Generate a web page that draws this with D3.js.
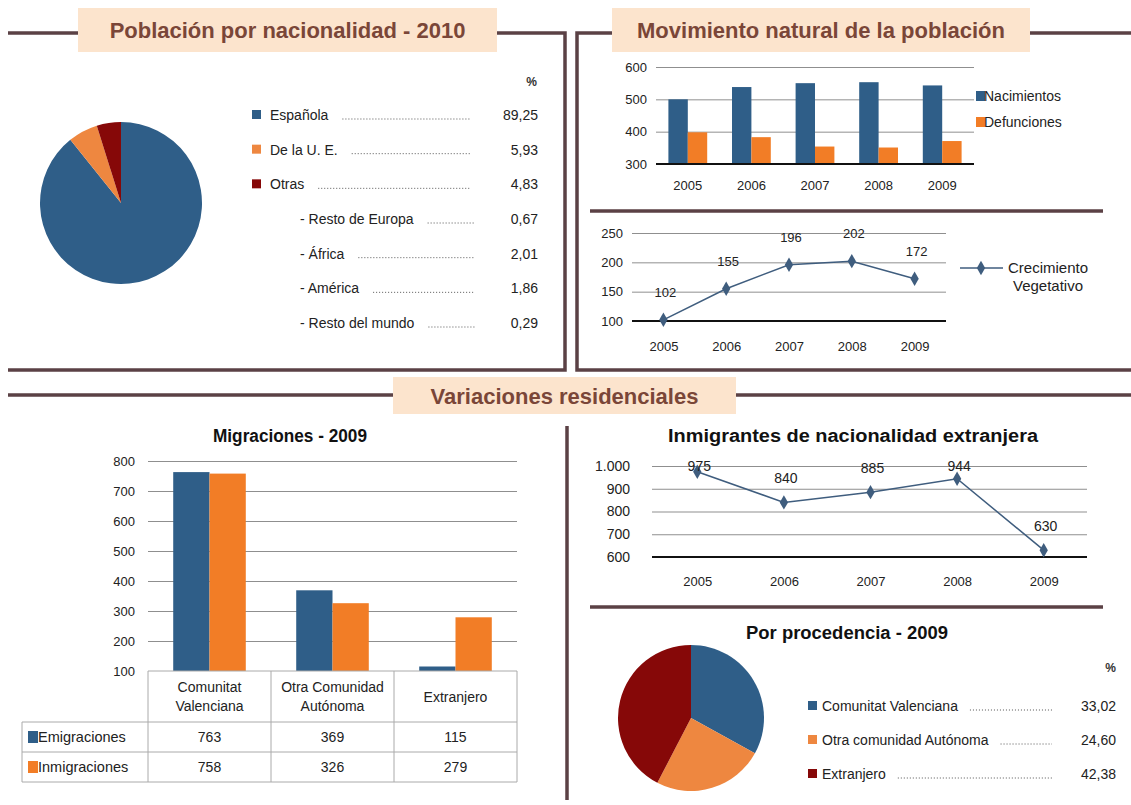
<!DOCTYPE html>
<html>
<head>
<meta charset="utf-8">
<script src="https://d3js.org/d3.v7.min.js"></script>
<style>
  body { margin: 0; background: #fff; }
  svg text { font-family: "Liberation Sans", Arial, sans-serif; }
</style>
</head>
<body>
<svg width="1131" height="805"></svg>
<script>
// Población por nacionalidad - 2010
const nacLabels = ["Española", "De la U. E.", "Otras"];
const nacValues = [89.25, 5.93, 4.83];
const otrasLabels = ["- Resto de Europa", "- África", "- América", "- Resto del mundo"];
const otrasValues = [0.67, 2.01, 1.86, 0.29];

// Movimiento natural
const years = ["2005", "2006", "2007", "2008", "2009"];
const nacimientos = [500, 538, 550, 553, 543];
const defunciones = [398, 383, 354, 351, 371];
const crecimiento = [102, 155, 196, 202, 172];

// Migraciones - 2009
const migCats = [["Comunitat", "Valenciana"], ["Otra Comunidad", "Autónoma"], ["Extranjero"]];
const emigraciones = [763, 369, 115];
const inmigraciones = [758, 326, 279];

// Inmigrantes de nacionalidad extranjera
const inmigrantes = [975, 840, 885, 944, 630];

// Por procedencia - 2009
const procLabels = ["Comunitat Valenciana", "Otra comunidad Autónoma", "Extranjero"];
const procValues = [33.02, 24.60, 42.38];

const BLUE = "#2f5e88", ORANGE = "#f27d26", RED = "#860808", PIE_ORANGE = "#ee8740";
const FRAME = "#5b4145", BOX = "#fce4cd", TITLE = "#7a4638", GRID = "#8f8f8f", LINE = "#3f5d7e";
const TXT = "#222";

const es = d3.formatLocale({decimal: ",", thousands: ".", grouping: [3], currency: ["", "€"]});
const fmt2 = es.format(".2f");
const fmtInt = es.format(",d");

const svg = d3.select("svg");

// frames and section titles
function frame(d) {
  svg.append("path").attr("d", d).attr("fill", "none")
    .attr("stroke", FRAME).attr("stroke-width", 3.5);
}
function sectionTitle(x0, x1, y0, y1, txt) {
  svg.append("rect").attr("x", x0).attr("y", y0).attr("width", x1 - x0).attr("height", y1 - y0)
    .attr("fill", BOX);
  svg.append("text").attr("x", (x0 + x1) / 2).attr("y", (y0 + y1) / 2 + 8)
    .attr("text-anchor", "middle").attr("font-weight", "bold").attr("font-size", 22)
    .attr("fill", TITLE).text(txt);
}
frame("M8,33H78M497,33H565V370H8");
frame("M1131,33H1030M612,33H577V370H1131");
frame("M590,211H1103");
frame("M8,395H393M736,395H1131");
frame("M567,426V800");
frame("M590,607H1103");
sectionTitle(78, 497, 8, 52, "Población por nacionalidad - 2010");
sectionTitle(612, 1030, 8, 52, "Movimiento natural de la población");
sectionTitle(393, 736, 377, 414, "Variaciones residenciales");

function subTitle(x, y, txt, len) {
  const t = svg.append("text").attr("x", x).attr("y", y).attr("text-anchor", "middle")
    .attr("font-weight", "bold").attr("font-size", 18).attr("fill", "#111").text(txt);
  if (len) t.attr("textLength", len).attr("lengthAdjust", "spacingAndGlyphs");
}
subTitle(290, 442, "Migraciones - 2009", 154);
subTitle(853, 442, "Inmigrantes de nacionalidad extranjera", 370);
subTitle(847, 639, "Por procedencia - 2009", 202);

function styleAxis(g, size) {
  g.select(".domain").remove();
  g.selectAll("text").attr("fill", TXT).style("font-size", (size || 13) + "px")
    .style("font-family", "Liberation Sans, Arial, sans-serif");
}
function grid(g) {
  g.selectAll("line").attr("stroke", GRID).attr("stroke-width", 1);
}

function drawPie(cx, cy, r, values, colors) {
  const pie = d3.pie().sort(null)(values);
  const arc = d3.arc().innerRadius(0).outerRadius(r);
  svg.append("g").attr("transform", `translate(${cx},${cy})`)
    .selectAll("path").data(pie).join("path")
    .attr("d", arc).attr("fill", (d, i) => colors[i]);
}

function leader(x0, x1, y) {
  svg.append("line").attr("x1", x0).attr("x2", x1).attr("y1", y).attr("y2", y)
    .attr("stroke", "#555").attr("stroke-width", 1).attr("stroke-dasharray", "1,2");
}

// Población por nacionalidad
const nacColors = [BLUE, PIE_ORANGE, RED];
drawPie(121, 203, 81, nacValues, nacColors);

svg.append("text").attr("x", 537).attr("y", 86).attr("text-anchor", "end")
  .attr("font-size", 12).attr("font-weight", "bold").attr("fill", "#333").text("%");

const rowY = d3.scaleLinear().domain([0, 6]).range([115, 323]);
const nacRows = nacLabels.map((l, i) => ({label: l, value: nacValues[i], sub: false, color: nacColors[i]}))
  .concat(otrasLabels.map((l, i) => ({label: l, value: otrasValues[i], sub: true})));

nacRows.forEach((r, i) => {
  const y = rowY(i);
  if (!r.sub) {
    svg.append("rect").attr("x", 252).attr("y", y - 5).attr("width", 9).attr("height", 9).attr("fill", r.color);
  }
  const tx = r.sub ? 300 : 270;
  const t = svg.append("text").attr("x", tx).attr("y", y + 5)
    .attr("font-size", 14).attr("fill", TXT).text(r.label);
  const tw = t.node().getComputedTextLength();
  leader(tx + tw + 14, r.sub ? 475 : 470, y + 4);
  svg.append("text").attr("x", 538).attr("y", y + 5).attr("text-anchor", "end")
    .attr("font-size", 14).attr("fill", TXT).text(fmt2(r.value));
});

// Nacimientos / Defunciones
{
  const x0 = d3.scaleBand().domain(years).range([656, 974]).paddingInner(0.39).paddingOuter(0.195);
  const x1 = d3.scaleBand().domain([0, 1]).range([0, x0.bandwidth()]);
  const y = d3.scaleLinear().domain([300, 600]).range([164, 67]);
  const g = svg.append("g");

  const ga = g.append("g").attr("transform", "translate(656,0)")
    .call(d3.axisLeft(y).tickValues([300, 400, 500, 600]).tickSize(-318).tickPadding(9));
  styleAxis(ga); grid(ga);
  ga.selectAll(".tick line").filter(d => d === 300).remove();

  const series = [nacimientos, defunciones];
  const cols = [BLUE, ORANGE];
  years.forEach((yr, i) => {
    series.forEach((s, k) => {
      g.append("rect").attr("x", x0(yr) + x1(k)).attr("width", x1.bandwidth())
        .attr("y", y(s[i])).attr("height", y(300) - y(s[i])).attr("fill", cols[k]);
    });
  });
  g.append("line").attr("x1", 656).attr("x2", 974).attr("y1", y(300)).attr("y2", y(300))
    .attr("stroke", "#111").attr("stroke-width", 2);
  const gx = g.append("g").attr("transform", `translate(0,${y(300)})`)
    .call(d3.axisBottom(x0).tickSize(0).tickPadding(17));
  styleAxis(gx);

  ["Nacimientos", "Defunciones"].forEach((l, k) => {
    const yy = 96 + k * 26;
    g.append("rect").attr("x", 976).attr("y", yy - 5).attr("width", 9).attr("height", 10).attr("fill", cols[k]);
    g.append("text").attr("x", 984).attr("y", yy + 5).attr("font-size", 14).attr("fill", TXT).text(l);
  });
}

// Crecimiento vegetativo
{
  const x = d3.scalePoint().domain(years).range([632, 946]).padding(0.5);
  const y = d3.scaleLinear().domain([100, 250]).range([321, 233]);
  const g = svg.append("g");
  const ga = g.append("g").attr("transform", "translate(632,0)")
    .call(d3.axisLeft(y).tickValues([100, 150, 200, 250]).tickSize(-314).tickPadding(9));
  styleAxis(ga); grid(ga);
  ga.selectAll(".tick line").filter(d => d === 100).remove();
  g.append("line").attr("x1", 632).attr("x2", 946).attr("y1", y(100)).attr("y2", y(100))
    .attr("stroke", "#111").attr("stroke-width", 2);
  const gx = g.append("g").attr("transform", `translate(0,${y(100)})`)
    .call(d3.axisBottom(x).tickSize(0).tickPadding(21));
  styleAxis(gx);

  g.append("path").datum(crecimiento)
    .attr("d", d3.line().x((d, i) => x(years[i])).y(d => y(d)))
    .attr("fill", "none").attr("stroke", LINE).attr("stroke-width", 1.5);
  g.selectAll(".pt").data(crecimiento).join("path")
    .attr("transform", (d, i) => `translate(${x(years[i])},${y(d)})`)
    .attr("d", d3.symbol(d3.symbolDiamond, 60)).attr("fill", LINE);
  g.selectAll(".lbl").data(crecimiento).join("text")
    .attr("x", (d, i) => x(years[i]) + 2).attr("y", d => y(d) - 23)
    .attr("text-anchor", "middle").attr("font-size", 13).attr("fill", TXT).text(d => d);

  g.append("line").attr("x1", 960).attr("x2", 1003).attr("y1", 268).attr("y2", 268)
    .attr("stroke", LINE).attr("stroke-width", 1.5);
  g.append("path").attr("transform", "translate(981,268)")
    .attr("d", d3.symbol(d3.symbolDiamond, 60)).attr("fill", LINE);
  g.append("text").attr("x", 1048).attr("y", 273).attr("text-anchor", "middle")
    .attr("font-size", 15).attr("fill", TXT).text("Crecimiento");
  g.append("text").attr("x", 1048).attr("y", 291).attr("text-anchor", "middle")
    .attr("font-size", 15).attr("fill", TXT).text("Vegetativo");
}

// Migraciones - 2009
{
  const idx = migCats.map((c, i) => i);
  const x0 = d3.scaleBand().domain(idx).range([148, 517]).paddingInner(0.41).paddingOuter(0.205);
  const x1 = d3.scaleBand().domain([0, 1]).range([0, x0.bandwidth()]);
  const y = d3.scaleLinear().domain([100, 800]).range([671, 461]);
  const g = svg.append("g");
  const ga = g.append("g").attr("transform", "translate(148,0)")
    .call(d3.axisLeft(y).tickValues(d3.range(100, 801, 100)).tickSize(-369).tickPadding(13));
  styleAxis(ga); grid(ga);
  ga.selectAll(".tick line").filter(d => d === 100).remove();

  const series = [emigraciones, inmigraciones];
  const cols = [BLUE, ORANGE];
  idx.forEach(i => {
    series.forEach((s, k) => {
      g.append("rect").attr("x", x0(i) + x1(k)).attr("width", x1.bandwidth())
        .attr("y", y(s[i])).attr("height", y(100) - y(s[i])).attr("fill", cols[k]);
    });
  });

  // data table under the chart
  const tTop = y(100), rH = 30, hH = 51;
  const edges = [148].concat(idx.map(i => x0(i) - x0.step() * 0.205 + x0.step()));
  const tg = g.append("g").attr("stroke", "#aaa").attr("stroke-width", 1);
  tg.append("line").attr("x1", 148).attr("x2", 517).attr("y1", tTop).attr("y2", tTop);
  [1, 2, 3].forEach(r => {
    const yy = tTop + hH + (r - 1) * rH;
    tg.append("line").attr("x1", 22).attr("x2", 517).attr("y1", yy).attr("y2", yy);
  });
  tg.append("line").attr("x1", 22).attr("x2", 22).attr("y1", tTop + hH).attr("y2", tTop + hH + 2 * rH);
  edges.forEach(e => tg.append("line").attr("x1", e).attr("x2", e).attr("y1", tTop).attr("y2", tTop + hH + 2 * rH));

  migCats.forEach((c, i) => {
    const cx = x0(i) + x0.bandwidth() / 2;
    const t = g.append("text").attr("text-anchor", "middle").attr("font-size", 14).attr("fill", TXT);
    c.forEach((line, j) => {
      t.append("tspan").attr("x", cx)
        .attr("y", tTop + hH / 2 + 5 + (j - (c.length - 1) / 2) * 19).text(line);
    });
  });
  ["Emigraciones", "Inmigraciones"].forEach((l, k) => {
    const cy = tTop + hH + rH * k + rH / 2;
    g.append("rect").attr("x", 28).attr("y", cy - 6).attr("width", 10).attr("height", 12).attr("fill", cols[k]);
    g.append("text").attr("x", 38).attr("y", cy + 5).attr("font-size", 14.5).attr("fill", TXT).text(l);
    series[k].forEach((v, i) => {
      g.append("text").attr("x", x0(i) + x0.bandwidth() / 2).attr("y", cy + 5)
        .attr("text-anchor", "middle").attr("font-size", 14).attr("fill", TXT).text(v);
    });
  });
}

// Inmigrantes de nacionalidad extranjera
{
  const x = d3.scalePoint().domain(years).range([654, 1087]).padding(0.5);
  const y = d3.scaleLinear().domain([600, 1000]).range([557, 466]);
  const g = svg.append("g");
  const ga = g.append("g").attr("transform", "translate(654,0)")
    .call(d3.axisLeft(y).tickValues([600, 700, 800, 900, 1000]).tickSize(-433).tickPadding(24).tickFormat(fmtInt));
  styleAxis(ga, 14); grid(ga);
  ga.selectAll(".tick line").filter(d => d === 600).remove();
  ga.selectAll(".tick line").attr("x1", -2);
  g.append("line").attr("x1", 652).attr("x2", 1087).attr("y1", y(600)).attr("y2", y(600))
    .attr("stroke", "#111").attr("stroke-width", 2);
  const gx = g.append("g").attr("transform", `translate(0,${y(600)})`)
    .call(d3.axisBottom(x).tickSize(0).tickPadding(20));
  styleAxis(gx);

  g.append("path").datum(inmigrantes)
    .attr("d", d3.line().x((d, i) => x(years[i])).y(d => y(d)))
    .attr("fill", "none").attr("stroke", LINE).attr("stroke-width", 1.5);
  g.selectAll(".pt").data(inmigrantes).join("path")
    .attr("transform", (d, i) => `translate(${x(years[i])},${y(d)})`)
    .attr("d", d3.symbol(d3.symbolDiamond, 60)).attr("fill", LINE);
  g.selectAll(".lbl").data(inmigrantes).join("text")
    .attr("x", (d, i) => x(years[i]) + 2).attr("y", d => Math.max(y(d) - 19, y(1000) + 5))
    .attr("text-anchor", "middle").attr("font-size", 14).attr("fill", TXT).text(d => d);
}

// Por procedencia - 2009
{
  const procColors = [BLUE, PIE_ORANGE, RED];
  drawPie(691, 718, 73, procValues, procColors);
  svg.append("text").attr("x", 1116).attr("y", 672).attr("text-anchor", "end")
    .attr("font-size", 12).attr("font-weight", "bold").attr("fill", "#333").text("%");
  const py = d3.scaleLinear().domain([0, 2]).range([706, 774]);
  procLabels.forEach((l, i) => {
    const yy = py(i);
    svg.append("rect").attr("x", 808).attr("y", yy - 5).attr("width", 9).attr("height", 9).attr("fill", procColors[i]);
    const t = svg.append("text").attr("x", 822).attr("y", yy + 5).attr("font-size", 14).attr("fill", TXT).text(l);
    const tw = t.node().getComputedTextLength();
    leader(822 + tw + 12, 1052, yy + 4);
    svg.append("text").attr("x", 1116).attr("y", yy + 5).attr("text-anchor", "end")
      .attr("font-size", 14).attr("fill", TXT).text(fmt2(procValues[i]));
  });
}
</script>
</body>
</html>
